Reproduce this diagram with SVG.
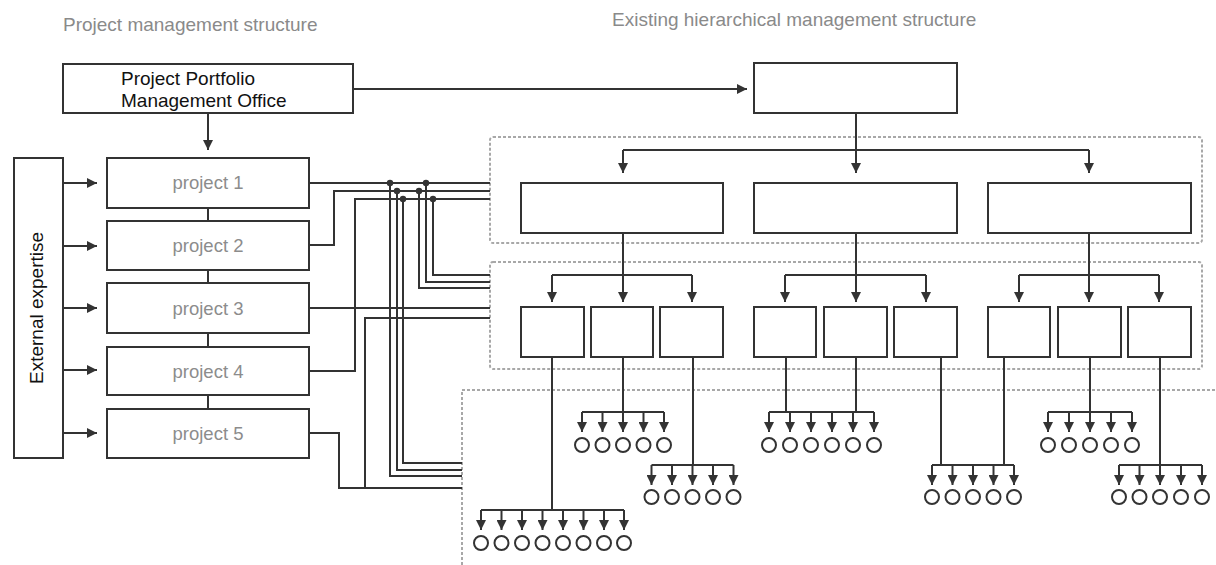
<svg xmlns="http://www.w3.org/2000/svg" width="1216" height="565" viewBox="0 0 1216 565">
<style>
.box{fill:#fff;stroke:#333;stroke-width:2}
.dash{fill:none;stroke:#a8a8a8;stroke-width:2;stroke-dasharray:3 2}
.ln{fill:none;stroke:#333;stroke-width:2}
.arr{fill:none;stroke:#333;stroke-width:2;marker-end:url(#ah)}
.circ{fill:#fff;stroke:#333;stroke-width:2}
.title{font-family:"Liberation Sans",Arial,sans-serif;font-size:19px;fill:#8a8a8a}
.lbl{font-family:"Liberation Sans",Arial,sans-serif;font-size:19px;fill:#111}
.plbl{font-family:"Liberation Sans",Arial,sans-serif;font-size:18.5px;fill:#8c8c8c;text-anchor:middle}
</style>
<defs>
<marker id="ah" viewBox="0 0 10 10" refX="10" refY="5" markerWidth="10" markerHeight="10" markerUnits="userSpaceOnUse" orient="auto"><path d="M0,0 L10,5 L0,10 z" fill="#333"/></marker>
</defs>
<rect width="1216" height="565" fill="#fff"/>
<text class="title" x="63" y="31">Project management structure</text>
<text class="title" x="612" y="26">Existing hierarchical management structure</text>

<g id="regions">
<rect class="dash" x="490" y="137" width="712" height="106" rx="3"/>
<rect class="dash" x="490" y="262" width="712" height="107" rx="3"/>
<path class="dash" d="M462,565 V390 H1216"/>
</g>

<g id="connectors">
<path class="arr" d="M353,89 H747"/>
<path class="arr" d="M208,113 V150"/>
<path class="ln" d="M208,208 V221 M208,270 V283 M208,333 V347 M208,395 V409"/>
<path class="arr" d="M63,183 H97"/>
<path class="arr" d="M63,246 H97"/>
<path class="arr" d="M63,308 H97"/>
<path class="arr" d="M63,370 H97"/>
<path class="arr" d="M63,433 H97"/>
<path class="ln" d="M309,183 H490 M309,245 H334 V191 H490 M309,371 H355 V199 H490 M309,308 H490 M309,433 H339 V488 H462 M365,488 V318 H490"/>
<path class="ln" d="M390,183 V476 H462 M397,191 V470 H462 M403,199 V463 H462 M426,183 V282 H490 M419,191 V288 H490 M433,199 V275 H490"/>
<g fill="#333">
<circle cx="390" cy="183" r="3.2"/><circle cx="426" cy="183" r="3.2"/>
<circle cx="397" cy="191" r="3.2"/><circle cx="419" cy="191" r="3.2"/>
<circle cx="403" cy="199" r="3.2"/><circle cx="433" cy="199" r="3.2"/>
</g>
<!-- hierarchy -->
<path class="ln" d="M856,113 V150 M623,150 H1089"/>
<path class="arr" d="M623,150 V173"/><path class="arr" d="M856,150 V173"/><path class="arr" d="M1089,150 V173"/>
<path class="ln" d="M623,233 V275 M856,233 V275 M1089,233 V275 M552,275 H692 M785,275 H926 M1019,275 H1159"/>
<path class="arr" d="M552,275 V302"/><path class="arr" d="M623,275 V302"/><path class="arr" d="M692,275 V302"/>
<path class="arr" d="M785,275 V302"/><path class="arr" d="M856,275 V302"/><path class="arr" d="M926,275 V302"/>
<path class="arr" d="M1019,275 V302"/><path class="arr" d="M1089,275 V302"/><path class="arr" d="M1159,275 V302"/>
<!-- feeders -->
<path class="ln" d="M552,357 V510 M623,357 V412 M693,357 V465 M786,357 V412 M856,357 V412 M941,357 V465 M1004,357 V465 M1090,357 V412 M1160,357 V465"/>
<path class="ln" d="M481,510 H624 M582,412 H664 M651.5,465 H733.5 M769,412 H874 M932,465 H1014 M1048,412 H1132 M1119,465 H1202"/>
<g class="arr">
<path d="M481,510 V530"/><path d="M501.5,510 V530"/><path d="M522,510 V530"/><path d="M542.5,510 V530"/><path d="M563,510 V530"/><path d="M583.5,510 V530"/><path d="M604,510 V530"/><path d="M624,510 V530"/>
<path d="M582,412 V432"/><path d="M602.5,412 V432"/><path d="M623,412 V432"/><path d="M643.5,412 V432"/><path d="M664,412 V432"/>
<path d="M651.5,465 V485"/><path d="M672,465 V485"/><path d="M692.5,465 V485"/><path d="M713,465 V485"/><path d="M733.5,465 V485"/>
<path d="M769,412 V432"/><path d="M790,412 V432"/><path d="M811,412 V432"/><path d="M832,412 V432"/><path d="M853,412 V432"/><path d="M874,412 V432"/>
<path d="M932,465 V485"/><path d="M952.5,465 V485"/><path d="M973,465 V485"/><path d="M993.5,465 V485"/><path d="M1014,465 V485"/>
<path d="M1048,412 V432"/><path d="M1069,412 V432"/><path d="M1090,412 V432"/><path d="M1111,412 V432"/><path d="M1132,412 V432"/>
<path d="M1119,465 V485"/><path d="M1139.5,465 V485"/><path d="M1160,465 V485"/><path d="M1181,465 V485"/><path d="M1202,465 V485"/>
</g>
</g>

<g id="ppmo"><rect class="box" x="63" y="64" width="290" height="49"/>
<text class="lbl" x="121" y="85">Project Portfolio</text><text class="lbl" x="121" y="107">Management Office</text></g>
<g id="external"><rect class="box" x="14" y="158" width="49" height="300"/>
<text class="lbl" transform="translate(43,308) rotate(-90)" text-anchor="middle">External expertise</text></g>
<g id="project1"><rect class="box" x="107" y="158" width="202" height="50"/><text class="plbl" x="208" y="189">project 1</text></g>
<g id="project2"><rect class="box" x="107" y="221" width="202" height="49"/><text class="plbl" x="208" y="252">project 2</text></g>
<g id="project3"><rect class="box" x="107" y="283" width="202" height="50"/><text class="plbl" x="208" y="315">project 3</text></g>
<g id="project4"><rect class="box" x="107" y="347" width="202" height="48"/><text class="plbl" x="208" y="378">project 4</text></g>
<g id="project5"><rect class="box" x="107" y="409" width="202" height="49"/><text class="plbl" x="208" y="440">project 5</text></g>

<g id="top"><rect class="box" x="754" y="63" width="203" height="50"/></g>
<g id="dept1"><rect class="box" x="521" y="183" width="202" height="50"/></g>
<g id="dept2"><rect class="box" x="754" y="183" width="203" height="50"/></g>
<g id="dept3"><rect class="box" x="988" y="183" width="203" height="50"/></g>
<g id="unit1"><rect class="box" x="521" y="307" width="63" height="50"/></g>
<g id="unit2"><rect class="box" x="591" y="307" width="62" height="50"/></g>
<g id="unit3"><rect class="box" x="660" y="307" width="63" height="50"/></g>
<g id="unit4"><rect class="box" x="754" y="307" width="62" height="50"/></g>
<g id="unit5"><rect class="box" x="824" y="307" width="63" height="50"/></g>
<g id="unit6"><rect class="box" x="894" y="307" width="63" height="50"/></g>
<g id="unit7"><rect class="box" x="988" y="307" width="62" height="50"/></g>
<g id="unit8"><rect class="box" x="1058" y="307" width="63" height="50"/></g>
<g id="unit9"><rect class="box" x="1128" y="307" width="63" height="50"/></g>

<g id="staffA">
<circle class="circ" cx="481" cy="543" r="7"/><circle class="circ" cx="501.5" cy="543" r="7"/><circle class="circ" cx="522" cy="543" r="7"/><circle class="circ" cx="542.5" cy="543" r="7"/><circle class="circ" cx="563" cy="543" r="7"/><circle class="circ" cx="583.5" cy="543" r="7"/><circle class="circ" cx="604" cy="543" r="7"/><circle class="circ" cx="624" cy="543" r="7"/>
</g>
<g id="staffB">
<circle class="circ" cx="582" cy="445" r="7"/><circle class="circ" cx="602.5" cy="445" r="7"/><circle class="circ" cx="623" cy="445" r="7"/><circle class="circ" cx="643.5" cy="445" r="7"/><circle class="circ" cx="664" cy="445" r="7"/>
</g>
<g id="staffC">
<circle class="circ" cx="651.5" cy="497" r="7"/><circle class="circ" cx="672" cy="497" r="7"/><circle class="circ" cx="692.5" cy="497" r="7"/><circle class="circ" cx="713" cy="497" r="7"/><circle class="circ" cx="733.5" cy="497" r="7"/>
</g>
<g id="staffD">
<circle class="circ" cx="769" cy="445" r="7"/><circle class="circ" cx="790" cy="445" r="7"/><circle class="circ" cx="811" cy="445" r="7"/><circle class="circ" cx="832" cy="445" r="7"/><circle class="circ" cx="853" cy="445" r="7"/><circle class="circ" cx="874" cy="445" r="7"/>
</g>
<g id="staffE">
<circle class="circ" cx="932" cy="497" r="7"/><circle class="circ" cx="952.5" cy="497" r="7"/><circle class="circ" cx="973" cy="497" r="7"/><circle class="circ" cx="993.5" cy="497" r="7"/><circle class="circ" cx="1014" cy="497" r="7"/>
</g>
<g id="staffF">
<circle class="circ" cx="1048" cy="445" r="7"/><circle class="circ" cx="1069" cy="445" r="7"/><circle class="circ" cx="1090" cy="445" r="7"/><circle class="circ" cx="1111" cy="445" r="7"/><circle class="circ" cx="1132" cy="445" r="7"/>
</g>
<g id="staffG">
<circle class="circ" cx="1119" cy="497" r="7"/><circle class="circ" cx="1139.5" cy="497" r="7"/><circle class="circ" cx="1160" cy="497" r="7"/><circle class="circ" cx="1181" cy="497" r="7"/><circle class="circ" cx="1202" cy="497" r="7"/>
</g>
</svg>
